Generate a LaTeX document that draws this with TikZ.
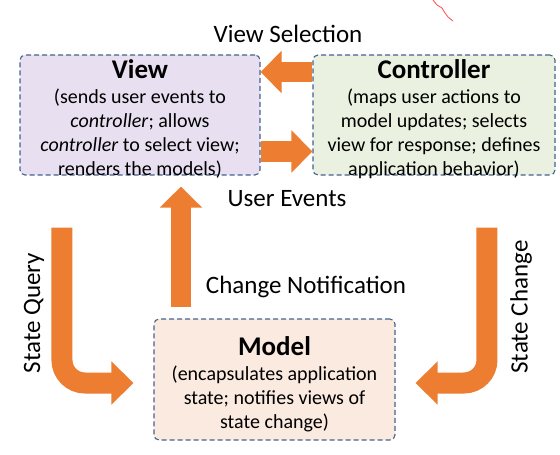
\documentclass[tikz,border=0pt]{standalone}
\usepackage{fontspec}
\setmainfont{Carlito}
\usetikzlibrary{arrows.meta,calc}
\definecolor{arr}{HTML}{ED7D31}
\definecolor{bordc}{HTML}{45628F}
\definecolor{viewfill}{RGB}{232,224,241}
\definecolor{ctrlfill}{RGB}{235,241,224}
\definecolor{modelfill}{RGB}{251,234,223}
\begin{document}
\begin{tikzpicture}[x=1pt,y=-1pt,
  box/.style={draw=bordc, dash pattern=on 5pt off 3pt, line width=1.1pt, rounded corners=5pt, inner sep=0pt, minimum height=120pt},
  titletext/.style={font=\fontsize{27}{32}\selectfont\bfseries, inner sep=0pt},
  bodytext/.style={font=\fontsize{20}{24}\selectfont, align=center, inner sep=0pt},
  labeltext/.style={font=\fontsize{25}{30}\selectfont, inner sep=0pt},
  bigarrow/.style={draw=arr, line width=20.5pt, -{Triangle[length=21pt,width=41pt]}},
  bendarrow/.style={draw=arr, line width=21pt, rounded corners=23pt, -{Triangle[length=22pt,width=42pt]}}]
\useasboundingbox (0,0) rectangle (560,455);
% boxes
\node[box, fill=viewfill, minimum width=240pt] (view) at (140,115) {};
\node[box, fill=ctrlfill, minimum width=242pt] (ctrl) at (434,115) {};
\node[box, fill=modelfill, minimum width=241pt, minimum height=121pt] (model) at (274.5,379.5) {};
% box texts
\node[titletext] (viewt) at ($(view.north)+(0,15)$) {View};
\node[bodytext] (viewb) at ($(view.center)+(0,19)$) {(sends user events to\\\textit{controller}; allows\\\textit{controller} to select view;\\renders the models)};
\node[titletext] (ctrlt) at ($(ctrl.north)+(0,15)$) {Controller};
\node[bodytext] (ctrlb) at ($(ctrl.center)+(0,19)$) {(maps user actions to\\model updates; selects\\view for response; defines\\application behavior)};
\node[titletext] (modelt) at ($(model.north)+(0,28)$) {Model};
\node[bodytext] (modelb) at ($(model.center)+(0,19)$) {(encapsulates application\\state; notifies views of\\state change)};
% arrows
\draw[bigarrow] ($(ctrl.west)+(0,-43)$) -- ($(view.east)+(0,-43)$);
\draw[bigarrow] ($(view.east)+(0,36.5)$) -- ($(ctrl.west)+(0,36.5)$);
\draw[bigarrow] ($(model.north west)+(27.5,-11)$) -- ($(view.south west)+(161.5,11)$);
\coordinate (sq1) at ($(view.south west)+(42.5,52)$);
\coordinate (sq2) at ($(model.west)+(-20,3.5)$);
\draw[bendarrow] (sq1) -- (sq1 |- sq2) -- (sq2);
\coordinate (sc1) at ($(ctrl.south west)+(174.5,52)$);
\coordinate (sc2) at ($(model.east)+(20,3.5)$);
\draw[bendarrow] (sc1) -- (sc1 |- sc2) -- (sc2);
% labels
\node[labeltext] (lvs) at (288,34) {View Selection};
\node[labeltext] (lue) at (287,199) {User Events};
\node[labeltext] (lcn) at (306,287) {Change Notification};
\node[labeltext, rotate=90] (lsq) at (34,313) {State Query};
\node[labeltext, rotate=90] (lsc) at (521,307) {State Change};
% stray red mark
\draw[red!70, line width=0.8pt] (433,0) -- (437,5) -- (442,8) -- (445,13) -- (448,17) -- (453,21);
\end{tikzpicture}
\end{document}
